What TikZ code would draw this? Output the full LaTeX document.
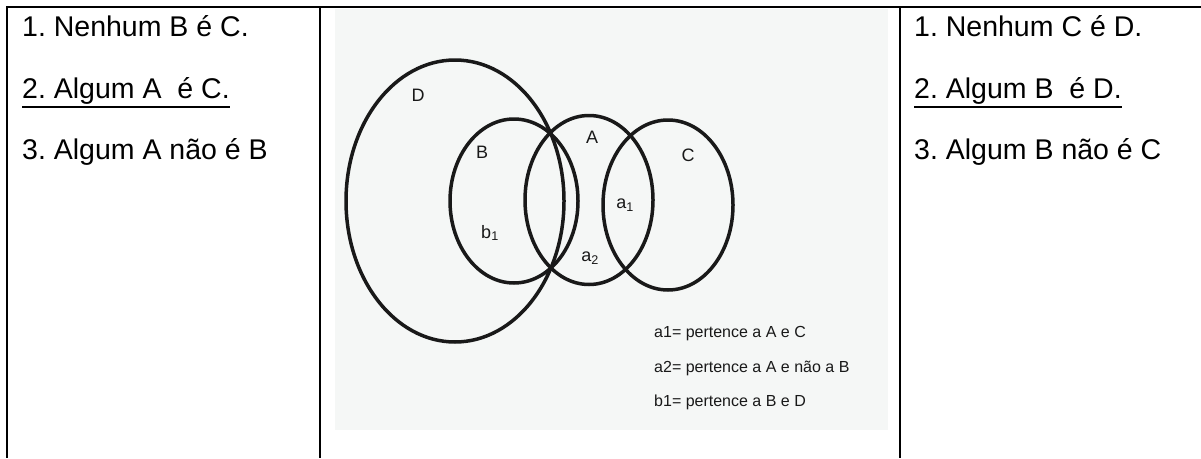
\documentclass[tikz,border=0pt]{standalone}
\usepackage{fontspec}
\setmainfont{Liberation Sans}
\usetikzlibrary{shapes.geometric}
\definecolor{foto}{RGB}{245,247,246}
\definecolor{caneta}{RGB}{25,25,25}
\frenchspacing

\begin{document}
\begin{tikzpicture}[x=1pt, y=-1pt,
  grade/.style={line width=2pt},
  frase/.style={anchor=base west, inner sep=0pt, font=\fontsize{28.5}{34}\selectfont},
  conj/.style={draw=caneta, ellipse, line width=3.5pt, inner sep=0pt},
  letra/.style={text=caneta, inner sep=0pt, font=\fontsize{18}{21}\selectfont},
  nota/.style={anchor=west, text=caneta, inner sep=0pt, font=\fontsize{16}{19}\selectfont}]
  \useasboundingbox (0,0) rectangle (1201,458);

  % tabela
  \draw [grade] (6,7) -- (1201,7);
  \draw [grade] (7,7) -- (7,458);
  \draw [grade] (320,7) -- (320,458);
  \draw [grade] (900,7) -- (900,458);

  % coluna da esquerda
  \node [frase] (l1) at (22,36) {1. Nenhum B é C.};
  \node [frase] (l2) at (22,98) {2. Algum A\ \ é C.};
  \node [frase] (l3) at (22,159) {3. Algum A não é B};
  \draw [line width=1.6pt] ([yshift=-9pt]l2.base west) -- ([yshift=-9pt]l2.base east);

  % coluna da direita
  \node [frase] (r1) at (914,36) {1. Nenhum C é D.};
  \node [frase] (r2) at (914,98) {2. Algum B\ \ é D.};
  \node [frase] (r3) at (914,159) {3. Algum B não é C};
  \draw [line width=1.6pt] ([yshift=-9pt]r2.base west) -- ([yshift=-9pt]r2.base east);

  % desenho
  \fill [foto] (335,9) rectangle (888,430);
  \node [conj, minimum width=218pt, minimum height=282pt] (D) at (455,201) {};
  \node [conj, minimum width=128pt, minimum height=164pt] (B) at (514,201) {};
  \node [conj, minimum width=128pt, minimum height=169pt] (A) at (589,200) {};
  \node [conj, minimum width=130pt, minimum height=170pt] (C) at (668,205) {};

  \node [letra] (lD) at (418,95) {D};
  \node [letra] (lB) at (482,152) {B};
  \node [letra] (lA) at (592,137) {A};
  \node [letra] (lC) at (688,155) {C};
  \node [letra] (b1) at (490,233) {b\textsubscript{1}};
  \node [letra] (a1) at (625,205) {a\textsubscript{1}};
  \node [letra] (a2) at (590,258) {a\textsubscript{2}};

  \node [nota] (n1) at (654,334) {a1= pertence a A e C};
  \node [nota] (n2) at (654,368) {a2= pertence a A e não a B};
  \node [nota] (n3) at (654,402) {b1= pertence a B e D};
\end{tikzpicture}
\end{document}
